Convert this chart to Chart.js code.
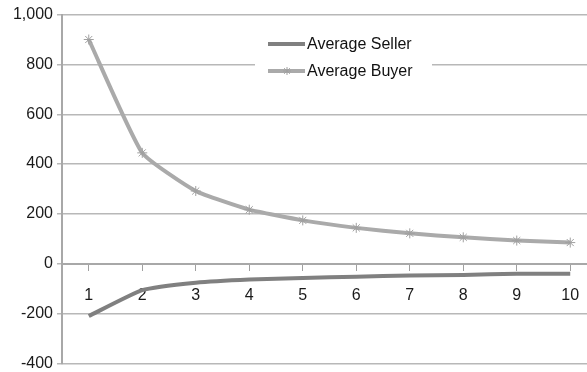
<!DOCTYPE html>
<html>
<head>
<meta charset="utf-8">
<script src="https://cdn.jsdelivr.net/npm/chart.js@4/dist/chart.umd.min.js"></script>
<style>
  html, body { margin: 0; padding: 0; background: #fff; overflow: hidden; }
  #wrap { width: 610px; height: 380px; padding-top: 1px; }
  canvas { display: block; }
</style>
</head>
<body>
<div id="wrap"><canvas id="c" width="603" height="376"></canvas></div>
<script>
// Rounds 1..10
const categories = ['1', '2', '3', '4', '5', '6', '7', '8', '9', '10'];
const sellerValues = [-210, -106, -76, -63, -57, -52, -47, -45, -40, -40];
const buyerValues = [900, 445, 292, 217, 174, 144, 122, 106, 93, 85];
const seriesNames = ['Average Seller', 'Average Buyer'];
const yTicks = [-400, -200, 0, 200, 400, 600, 800, 1000];

const FONT = 'Liberation Sans, Arial, Helvetica, sans-serif';
const SELLER_COLOR = '#808080';
const BUYER_COLOR = '#aaaaaa';

// Legend box drawn inside the plot, near the top
const insideLegend = {
  id: 'insideLegend',
  afterDraw(chart) {
    const ctx = chart.ctx;
    ctx.save();
    ctx.fillStyle = '#ffffff';
    ctx.fillRect(255, 29, 177, 54);
    const rows = [43, 70];
    chart.data.datasets.forEach((ds, i) => {
      const y = rows[i];
      ctx.strokeStyle = ds.borderColor;
      ctx.lineWidth = 4;
      ctx.lineCap = 'butt';
      ctx.beginPath();
      ctx.moveTo(268, y);
      ctx.lineTo(305, y);
      ctx.stroke();
      if (ds.pointRadius > 0) {
        ctx.lineWidth = 1;
        ctx.strokeStyle = ds.pointBorderColor;
        const r = 4, cx = 287;
        for (let k = 0; k < 4; k++) {
          const a = k * Math.PI / 4;
          ctx.beginPath();
          ctx.moveTo(cx - r * Math.cos(a), y - r * Math.sin(a));
          ctx.lineTo(cx + r * Math.cos(a), y + r * Math.sin(a));
          ctx.stroke();
        }
      }
      ctx.fillStyle = '#111111';
      ctx.font = '16px ' + FONT;
      ctx.textBaseline = 'middle';
      ctx.textAlign = 'left';
      ctx.fillText(ds.label, 307, y + 1);
    });
    ctx.restore();
  }
};

new Chart(document.getElementById('c'), {
  type: 'line',
  data: {
    labels: categories,
    datasets: [
      {
        label: seriesNames[0],
        data: sellerValues,
        borderColor: SELLER_COLOR,
        backgroundColor: SELLER_COLOR,
        borderWidth: 4,
        pointRadius: 0,
        tension: 0.15
      },
      {
        label: seriesNames[1],
        data: buyerValues,
        borderColor: BUYER_COLOR,
        backgroundColor: BUYER_COLOR,
        borderWidth: 4,
        pointStyle: 'star',
        pointRadius: 5,
        pointBorderColor: '#a0a0a0',
        pointBorderWidth: 1,
        tension: 0.15
      }
    ]
  },
  options: {
    responsive: false,
    animation: false,
    layout: { padding: { top: 7, bottom: 5, left: 0, right: 0 } },
    plugins: {
      legend: { display: false },
      tooltip: { enabled: false }
    },
    scales: {
      x: {
        position: { y: 0 },
        offset: true,
        grid: {
          drawOnChartArea: false,
          drawTicks: true,
          tickLength: 6,
          color: '#a0a0a0',
          lineWidth: 1
        },
        border: { display: true, color: '#a8a8a8', width: 2 },
        ticks: {
          color: '#1a1a1a',
          font: { family: FONT, size: 16 },
          padding: 16,
          maxRotation: 0
        }
      },
      y: {
        min: -400,
        max: 1000,
        afterBuildTicks(scale) {
          scale.ticks = yTicks.map(v => ({ value: v }));
        },
        afterFit(scale) { scale.width = 62; },
        grid: {
          color: '#b8b8b8',
          lineWidth: 1.5,
          tickLength: 5
        },
        border: { display: true, color: '#a8a8a8', width: 2 },
        ticks: {
          color: '#1a1a1a',
          font: { family: FONT, size: 16 },
          padding: 4,
          callback: v => v.toLocaleString('en-US')
        }
      }
    }
  },
  plugins: [insideLegend]
});
</script>
</body>
</html>
